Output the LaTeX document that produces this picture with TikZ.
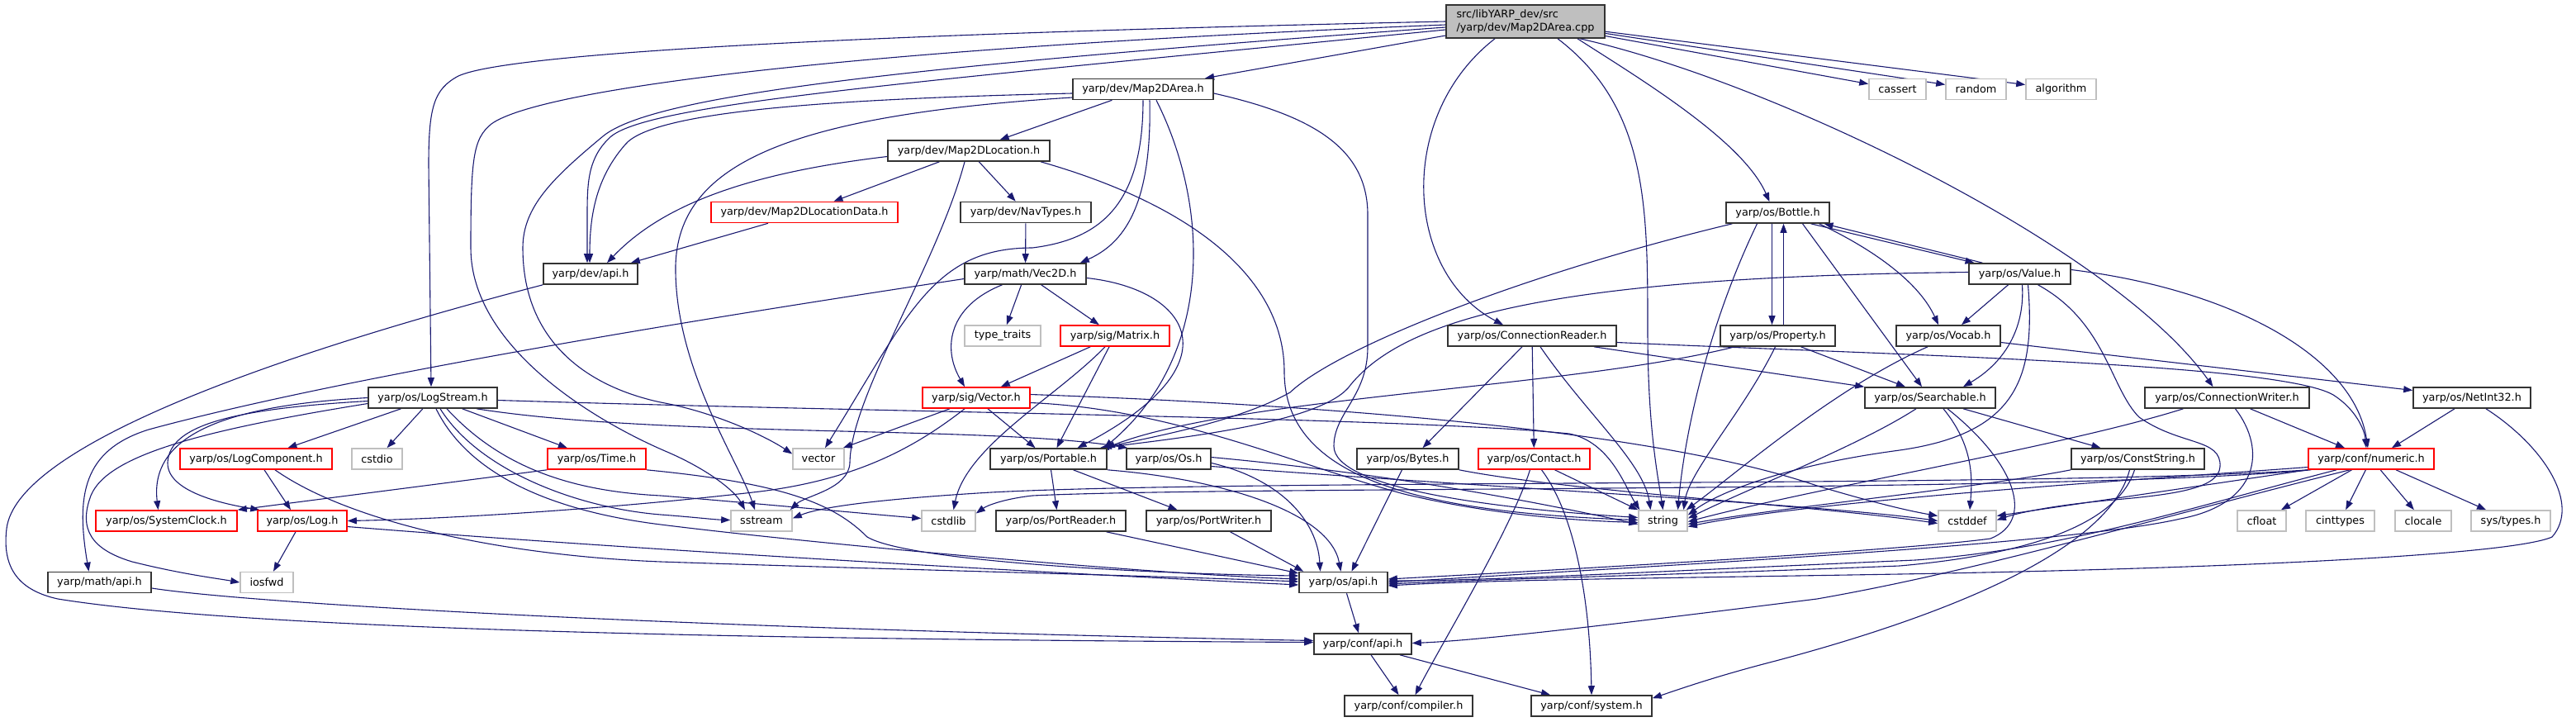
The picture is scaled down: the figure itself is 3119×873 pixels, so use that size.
\documentclass[tikz,border=0pt]{standalone}
\usepackage{fontspec}
\setmainfont{DejaVu Sans}
\usetikzlibrary{arrows.meta,calc}
\pgfdeclarelayer{bg}
\pgfsetlayers{bg,main}
\definecolor{edgec}{RGB}{25,25,112}
\definecolor{grayb}{RGB}{191,191,191}
\begin{document}
\begin{tikzpicture}[x=1pt,y=-1pt,
  nbox/.style={draw=black!80, line width=1.6pt, fill=white, minimum height=25pt, inner sep=0pt, font=\fontsize{12.8pt}{16pt}\selectfont, text=black},
  redbox/.style={nbox, draw=red},
  sysbox/.style={nbox, draw=grayb},
  edge/.style={draw=edgec, line width=1.1pt, -{Triangle[length=11pt,width=8pt]}}]
\useasboundingbox (0,0) rectangle (3119,873);
% nodes
\node[nbox, minimum width=192pt, minimum height=40pt, fill=grayb, align=left] (main) at (1847,26) {src/libYARP\_dev/src\\/yarp/dev/Map2DArea.cpp};
\node[nbox, minimum width=170pt] (map2darea) at (1384,108) {yarp/dev/Map2DArea.h};
\node[sysbox, minimum width=69pt] (cassert) at (2297.5,108) {cassert};
\node[sysbox, minimum width=73pt] (random) at (2392.5,108) {random};
\node[sysbox, minimum width=85pt] (algorithm) at (2495.5,108) {algorithm};
\node[nbox, minimum width=196pt] (map2dloc) at (1173,182.5) {yarp/dev/Map2DLocation.h};
\node[redbox, minimum width=226pt] (map2dlocdata) at (974,257) {yarp/dev/Map2DLocationData.h};
\node[nbox, minimum width=158pt] (navtypes) at (1242,257) {yarp/dev/NavTypes.h};
\node[nbox, minimum width=125pt] (bottle) at (2152.5,257.5) {yarp/os/Bottle.h};
\node[nbox, minimum width=114pt] (devapi) at (715,331.5) {yarp/dev/api.h};
\node[nbox, minimum width=147pt] (vec2d) at (1241.5,331.5) {yarp/math/Vec2D.h};
\node[nbox, minimum width=123pt] (value) at (2445.5,331.5) {yarp/os/Value.h};
\node[sysbox, minimum width=92pt] (typetraits) at (1214,406.5) {type\_traits};
\node[redbox, minimum width=132pt] (matrix) at (1350,406.5) {yarp/sig/Matrix.h};
\node[nbox, minimum width=204pt] (connreader) at (1855,406.5) {yarp/os/ConnectionReader.h};
\node[nbox, minimum width=139pt] (property) at (2152.5,406.5) {yarp/os/Property.h};
\node[nbox, minimum width=126pt] (vocab) at (2359,406.5) {yarp/os/Vocab.h};
\node[nbox, minimum width=156pt] (logstream) at (524,481.5) {yarp/os/LogStream.h};
\node[redbox, minimum width=130pt] (sigvector) at (1182,481.5) {yarp/sig/Vector.h};
\node[nbox, minimum width=158pt] (searchable) at (2337,481.5) {yarp/os/Searchable.h};
\node[nbox, minimum width=199pt] (connwriter) at (2696.5,481.5) {yarp/os/ConnectionWriter.h};
\node[nbox, minimum width=142pt] (netint32) at (2993,481.5) {yarp/os/NetInt32.h};
\node[redbox, minimum width=184pt] (logcomponent) at (310,555.5) {yarp/os/LogComponent.h};
\node[sysbox, minimum width=61pt] (cstdio) at (456.5,555.5) {cstdio};
\node[redbox, minimum width=119pt] (time) at (722.5,555.5) {yarp/os/Time.h};
\node[sysbox, minimum width=62pt] (stdvector) at (991,555.5) {vector};
\node[nbox, minimum width=141pt] (portable) at (1269.5,555.5) {yarp/os/Portable.h};
\node[nbox, minimum width=102pt] (os) at (1415,555.5) {yarp/os/Os.h};
\node[nbox, minimum width=123pt] (bytes) at (1704.5,555.5) {yarp/os/Bytes.h};
\node[redbox, minimum width=135pt] (contact) at (1857.5,555.5) {yarp/os/Contact.h};
\node[nbox, minimum width=161pt] (conststring) at (2588.5,555.5) {yarp/os/ConstString.h};
\node[redbox, minimum width=152pt] (numeric) at (2871,555.5) {yarp/conf/numeric.h};
\node[redbox, minimum width=171pt] (systemclock) at (201.5,630.5) {yarp/os/SystemClock.h};
\node[redbox, minimum width=108pt] (log) at (366,630.5) {yarp/os/Log.h};
\node[sysbox, minimum width=74pt] (sstream) at (922,630.5) {sstream};
\node[sysbox, minimum width=65pt] (cstdlib) at (1148.5,630.5) {cstdlib};
\node[nbox, minimum width=157pt] (portreader) at (1284.5,630.5) {yarp/os/PortReader.h};
\node[nbox, minimum width=151pt] (portwriter) at (1463.5,630.5) {yarp/os/PortWriter.h};
\node[sysbox, minimum width=59pt] (string) at (2013.5,630.5) {string};
\node[sysbox, minimum width=70pt] (cstddef) at (2382,630.5) {cstddef};
\node[sysbox, minimum width=59pt] (cfloat) at (2738.5,630.5) {cfloat};
\node[sysbox, minimum width=83pt] (cinttypes) at (2833.5,630.5) {cinttypes};
\node[sysbox, minimum width=68pt] (clocale) at (2934,630.5) {clocale};
\node[sysbox, minimum width=96pt] (systypes) at (3040,630.5) {sys/types.h};
\node[nbox, minimum width=125pt] (mathapi) at (120.5,705) {yarp/math/api.h};
\node[sysbox, minimum width=64pt] (iosfwd) at (323,705) {iosfwd};
\node[nbox, minimum width=107pt] (osapi) at (1626.5,705) {yarp/os/api.h};
\node[nbox, minimum width=118pt] (confapi) at (1650,779.5) {yarp/conf/api.h};
\node[nbox, minimum width=155pt] (compiler) at (1705.5,854.5) {yarp/conf/compiler.h};
\node[nbox, minimum width=146pt] (system) at (1927,854.5) {yarp/conf/system.h};
\begin{pgfonlayer}{bg}
% main
\draw[edge] (main) -- (map2darea);
\draw[edge] (main) -- (cassert);
\draw[edge] (main) -- (random);
\draw[edge] (main) -- (algorithm);
\draw[edge] ($(main.south)+(63,0)$) .. controls (1985,95) and (2110,170) .. ($(bottle.north)+(-10,0)$);
\draw[edge] ($(main.south)+(66,0)$) .. controls (2150,100) and (2560,300) .. ($(connwriter.north)+(-17,0)$);
\draw[edge] ($(main.south)+(-37,0)$) .. controls (1690,140) and (1700,330) .. ($(connreader.north)+(-35,0)$);
\draw[edge] ($(main.south)+(39,0)$) .. controls (1995,130) and (1995,250) .. (1995,400) .. controls (1995,520) and (2008,580) .. (string.north);
\draw[edge] (main.west) .. controls (1100,40) and (620,62) .. (555,92) .. controls (525,108) and (519,130) .. (519,200) -- ($(logstream.north)+(-2,0)$);
\draw[edge] ($(main.west)+(0,4)$) .. controls (1000,60) and (650,110) .. (595,150) .. controls (573,168) and (570,190) .. (570,300) .. controls (570,420) and (720,510) .. (810,548) .. controls (860,570) and (890,595) .. ($(sstream.north)+(-20,0)$);
\draw[edge] ($(main.west)+(0,7)$) .. controls (1100,80) and (790,115) .. (730,165) .. controls (670,215) and (633,250) .. (633,300) .. controls (633,420) and (720,470) .. (800,487) .. controls (870,500) and (930,530) .. ($(stdvector.west)+(0,-6)$);
\draw[edge] ($(main.west)+(0,10)$) .. controls (1100,100) and (790,125) .. (740,165) .. controls (712,190) and (711,220) .. (711,260) -- ($(devapi.north)+(-4,0)$);
% Map2DArea.h
\draw[edge] (map2darea) -- (map2dloc);
\draw[edge] ($(map2darea.west)+(0,5)$) .. controls (1000,120) and (790,135) .. (757,175) .. controls (722,215) and (714,260) .. ($(devapi.north)+(-1,0)$);
\draw[edge] ($(map2darea.west)+(0,10)$) .. controls (950,140) and (815,200) .. (818,330) .. controls (820,450) and (895,560) .. ($(sstream.north)+(-8,0)$);
\draw[edge] (map2darea.south) .. controls (1384,250) and (1330,290) .. (1250,300) .. controls (1130,300) and (1100,380) .. ($(stdvector.north)+(8,0)$);
\draw[edge] ($(map2darea.south)+(8,0)$) .. controls (1395,250) and (1360,295) .. ($(vec2d.north east)+(-8,0)$);
\draw[edge] ($(map2darea.south)+(16,0)$) .. controls (1465,250) and (1470,430) .. ($(portable.north east)+(-4,0)$);
\draw[edge] ($(map2darea.east)+(0,5)$) .. controls (1590,140) and (1656,180) .. (1656,260) -- (1656,420) .. controls (1656,480) and (1615,500) .. (1615,540) .. controls (1615,590) and (1800,615) .. ($(string.west)+(0,-4)$);
% Map2DLocation.h
\draw[edge] (map2dloc) -- (map2dlocdata);
\draw[edge] (map2dloc) -- (navtypes);
\draw[edge] ($(map2dloc.west)+(0,7)$) .. controls (900,210) and (800,250) .. ($(devapi.north)+(20,0)$);
\draw[edge] ($(map2dloc.south)+(-5,0)$) .. controls (1135,320) and (1030,480) .. (1029,560) .. controls (1028,592) and (975,600) .. ($(sstream.north east)+(-3,0)$);
\draw[edge] ($(map2dloc.south)+(87,0)$) .. controls (1450,250) and (1555,340) .. (1555,450) .. controls (1555,580) and (1720,620) .. ($(string.west)+(0,-1)$);
% others
\draw[edge] ($(map2dlocdata.south)+(-44,0)$) -- ($(devapi.north east)+(-9,0)$);
\draw[edge] (navtypes) -- (vec2d);
\draw[edge] (devapi.south west) .. controls (330,430) and (20,540) .. (8,640) .. controls (2,690) and (25,715) .. (70,725) .. controls (300,762) and (900,774) .. ($(confapi.west)+(0,-2)$);
% Vec2D
\draw[edge] (vec2d) -- (typetraits);
\draw[edge] (vec2d) -- (matrix);
\draw[edge] ($(vec2d.south)+(-28,0)$) .. controls (1150,370) and (1140,420) .. ($(sigvector.north)+(-14,0)$);
\draw[edge] ($(vec2d.east)+(0,5)$) .. controls (1440,350) and (1500,440) .. ($(portable.north)+(35,0)$);
\draw[edge] ($(vec2d.west)+(0,6)$) .. controls (800,393) and (400,460) .. (180,520) .. controls (100,545) and (92,600) .. ($(mathapi.north)+(-13,0)$);
% Matrix
\draw[edge] (matrix) -- (sigvector);
\draw[edge] ($(matrix.south)+(-7,0)$) -- ($(portable.north)+(10,0)$);
\draw[edge] ($(matrix.south)+(-12,0)$) .. controls (1280,480) and (1170,540) .. ($(cstdlib.north)+(6,0)$);
% sig/Vector
\draw[edge] ($(sigvector.south)+(-32,0)$) -- ($(stdvector.north east)+(-2,0)$);
\draw[edge] ($(sigvector.south)+(14,0)$) -- ($(portable.north)+(-16,0)$);
\draw[edge] ($(sigvector.south)+(-14,0)$) .. controls (1110,540) and (1040,580) .. (920,595) .. controls (750,615) and (550,628) .. (log.east);
\draw[edge] ($(sigvector.east)+(0,6)$) .. controls (1420,495) and (1560,560) .. (1700,598) .. controls (1800,622) and (1900,630) .. ($(string.west)+(0,2)$);
\draw[edge] ($(sigvector.east)+(0,-4)$) .. controls (1600,490) and (2000,520) .. (2200,588) .. controls (2280,612) and (2320,620) .. ($(cstddef.west)+(0,-6)$);
% LogStream
\draw[edge] (logstream) -- (logcomponent);
\draw[edge] (logstream) -- (cstdio);
\draw[edge] (logstream) -- (time);
\draw[edge] (logstream.west) .. controls (290,490) and (180,520) .. ($(systemclock.north)+(-10,0)$);
\draw[edge] ($(logstream.west)+(0,4)$) .. controls (280,495) and (205,515) .. (203,560) .. controls (202,595) and (270,610) .. ($(log.north west)+(3,0)$);
\draw[edge] ($(logstream.west)+(0,7)$) .. controls (250,520) and (130,550) .. (110,600) .. controls (95,640) and (110,665) .. (160,680) .. controls (220,695) and (262,700) .. (iosfwd.west);
\draw[edge] ($(logstream.south)+(4,0)$) .. controls (560,560) and (640,615) .. (800,635) .. controls (1000,660) and (1400,695) .. ($(osapi.west)+(0,-4)$);
\draw[edge] ($(logstream.south)+(9,0)$) .. controls (580,570) and (700,615) .. (800,623) .. controls (840,626) and (865,629) .. ($(sstream.west)+(0,-1)$);
\draw[edge] ($(logstream.south)+(17,0)$) .. controls (610,570) and (700,595) .. (800,600) .. controls (900,608) and (1050,622) .. ($(cstdlib.west)+(0,-3)$);
\draw[edge] ($(logstream.east)+(0,3)$) .. controls (1100,500) and (1700,505) .. (1900,525) .. controls (1950,535) and (1968,590) .. ($(string.north west)+(2,0)$);
\draw[edge] ($(logstream.south)+(53,0)$) .. controls (800,530) and (1200,515) .. ($(os.north west)+(2,0)$);
% LogComponent, Time, Log
\draw[edge] ($(logcomponent.south)+(10,0)$) -- ($(log.north)+(-14,0)$);
\draw[edge] ($(logcomponent.south)+(23,0)$) .. controls (420,630) and (600,672) .. (800,680) .. controls (1100,690) and (1400,697) .. ($(osapi.west)+(0,-1)$);
\draw[edge] (time.south west) -- (systemclock.north east);
\draw[edge] (time.south east) .. controls (950,585) and (1010,610) .. (1050,650) .. controls (1100,680) and (1400,695) .. ($(osapi.west)+(0,-8)$);
\draw[edge] ($(log.south)+(-8,0)$) -- ($(iosfwd.north)+(8,0)$);
\draw[edge] ($(log.east)+(0,7)$) .. controls (800,668) and (1300,695) .. ($(osapi.west)+(0,3)$);
\draw[edge] ($(mathapi.east)+(0,7)$) .. controls (300,730) and (800,760) .. ($(confapi.west)+(0,-4)$);
% api chain
\draw[edge] ($(osapi.south)+(4,0)$) -- ($(confapi.north)+(-5,0)$);
\draw[edge] ($(confapi.south)+(10,0)$) -- ($(compiler.north)+(-12,0)$);
\draw[edge] ($(confapi.south)+(45,0)$) -- ($(system.north)+(-50,0)$);
% Contact, Bytes
\draw[edge] ($(contact.south)+(-5,0)$) .. controls (1830,640) and (1745,780) .. ($(compiler.north)+(8,0)$);
\draw[edge] ($(contact.south)+(9,0)$) .. controls (1905,620) and (1925,720) .. (system.north);
\draw[edge] ($(contact.south)+(25,0)$) -- ($(string.north west)+(0,0)$);
\draw[edge] ($(bytes.south)+(-7,0)$) -- ($(osapi.north)+(10,0)$);
\draw[edge] (bytes.south east) .. controls (1900,595) and (2200,612) .. ($(cstddef.west)+(0,3)$);
% ConnectionReader
\draw[edge] ($(connreader.south)+(-12,0)$) -- ($(bytes.north)+(18,0)$);
\draw[edge] (connreader) -- (contact);
\draw[edge] ($(connreader.south)+(10,0)$) .. controls (1920,500) and (1990,560) .. ($(string.north)+(-15,0)$);
\draw[edge] ($(connreader.south)+(75,0)$) -- (searchable.north west);
\draw[edge] ($(connreader.east)+(0,8)$) .. controls (2300,430) and (2760,440) .. (2825,478) .. controls (2852,495) and (2863,520) .. ($(numeric.north)+(-6,0)$);
% Property
\draw[edge] ($(property.south)+(-52,0)$) .. controls (1900,470) and (1500,480) .. ($(portable.north east)+(-2,0)$);
\draw[edge] ($(property.south)+(-3,0)$) .. controls (2110,500) and (2045,570) .. ($(string.north)+(25,0)$);
\draw[edge] ($(property.south)+(28,0)$) -- ($(searchable.north)+(-30,0)$);
\draw[edge] ($(property.north)+(7,0)$) -- ($(bottle.south)+(7,0)$);
% Bottle
\draw[edge] ($(bottle.south)+(-7,0)$) -- ($(property.north)+(-7,0)$);
\draw[edge] ($(bottle.south)+(-55,0)$) .. controls (1850,330) and (1620,420) .. (1562,475) .. controls (1500,510) and (1400,528) .. ($(portable.north east)+(-6,0)$);
\draw[edge] ($(bottle.south)+(-25,0)$) .. controls (2070,390) and (2040,520) .. ($(string.north)+(18,0)$);
\draw[edge] ($(bottle.south)+(30,0)$) -- ($(searchable.north)+(-10,0)$);
\draw[edge] ($(bottle.south)+(50,0)$) .. controls (2275,305) and (2325,345) .. ($(vocab.north)+(-12,0)$);
\draw[edge] ($(bottle.south)+(40,0)$) -- ($(value.north)+(-55,0)$);
% Value
\draw[edge] ($(value.north)+(-45,0)$) -- ($(bottle.south)+(56,0)$);
\draw[edge] ($(value.south)+(-14,0)$) -- ($(vocab.north)+(16,0)$);
\draw[edge] ($(value.south)+(3,0)$) .. controls (2452,400) and (2425,440) .. ($(searchable.north)+(40,0)$);
\draw[edge] ($(value.south)+(10,0)$) .. controls (2465,460) and (2440,525) .. (2300,545) .. controls (2150,565) and (2075,600) .. ($(string.east)+(0,-7)$);
\draw[edge] ($(value.south)+(22,0)$) .. controls (2550,390) and (2555,470) .. (2590,505) .. controls (2640,540) and (2690,530) .. (2688,565) .. controls (2686,590) and (2640,598) .. (2560,605) .. controls (2480,612) and (2440,622) .. ($(cstddef.east)+(0,-1)$);
\draw[edge] ($(value.east)+(0,-5)$) .. controls (2700,350) and (2850,430) .. ($(numeric.north)+(-4,0)$);
\draw[edge] ($(value.west)+(0,-2)$) .. controls (1900,335) and (1700,380) .. (1632,470) .. controls (1595,510) and (1450,528) .. ($(portable.north east)+(-9,0)$);
% Vocab
\draw[edge] ($(vocab.south)+(-25,0)$) .. controls (2220,470) and (2100,575) .. ($(string.north east)+(-2,0)$);
\draw[edge] ($(vocab.east)+(0,8)$) -- ($(netint32.west)+(0,-9)$);
% Searchable
\draw[edge] ($(searchable.south)+(-17,0)$) .. controls (2250,540) and (2120,590) .. ($(string.east)+(0,-3)$);
\draw[edge] ($(searchable.south)+(16,0)$) .. controls (2390,540) and (2388,580) .. ($(cstddef.north)+(3,0)$);
\draw[edge] ($(searchable.south)+(21,0)$) .. controls (2440,560) and (2465,630) .. (2410,652) .. controls (2300,667) and (1850,692) .. ($(osapi.east)+(0,-4)$);
\draw[edge] ($(searchable.south)+(40,0)$) -- ($(conststring.north)+(-45,0)$);
% ConnectionWriter
\draw[edge] ($(connwriter.south)+(-53,0)$) .. controls (2500,540) and (2200,590) .. ($(string.east)+(0,1)$);
\draw[edge] ($(connwriter.south)+(28,0)$) -- ($(numeric.north)+(-32,0)$);
\draw[edge] ($(connwriter.south)+(10,0)$) .. controls (2745,545) and (2735,610) .. (2640,628) .. controls (2500,660) and (2000,685) .. (osapi.east);
% NetInt32
\draw[edge] ($(netint32.south)+(-21,0)$) -- ($(numeric.north)+(25,0)$);
\draw[edge] ($(netint32.south)+(17,0)$) .. controls (3080,540) and (3125,610) .. (3090,650) .. controls (3040,672) and (2700,688) .. (2300,695) .. controls (2000,700) and (1800,702) .. ($(osapi.east)+(0,4)$);
% ConstString
\draw[edge] (conststring.south west) .. controls (2400,590) and (2150,615) .. ($(string.east)+(0,4)$);
\draw[edge] ($(conststring.south)+(-4,0)$) .. controls (2565,630) and (2470,670) .. (2300,685) .. controls (2000,697) and (1800,701) .. ($(osapi.east)+(0,2)$);
\draw[edge] ($(conststring.south)+(-10,0)$) .. controls (2550,680) and (2300,760) .. (2150,800) .. controls (2080,818) and (2040,832) .. ($(system.north east)+(0,4)$);
% numeric
\draw[edge] (numeric) -- (cfloat);
\draw[edge] (numeric) -- (cinttypes);
\draw[edge] (numeric) -- (clocale);
\draw[edge] (numeric) -- (systypes);
\draw[edge] ($(numeric.west)+(0,10)$) .. controls (2600,580) and (2200,605) .. ($(string.east)+(0,7)$);
\draw[edge] (numeric.south west) -- ($(cstddef.east)+(0,-6)$);
\draw[edge] (numeric.south west) .. controls (2500,590) and (1500,580) .. (1200,596) .. controls (1050,605) and (990,615) .. ($(sstream.east)+(0,-3)$);
\draw[edge] ($(numeric.south west)+(4,0)$) .. controls (2500,597) and (1500,588) .. (1250,600) .. controls (1215,604) and (1195,612) .. ($(cstdlib.east)+(0,-9)$);
\draw[edge] ($(numeric.south)+(-42,0)$) .. controls (2650,615) and (2500,665) .. (2319,678) .. controls (2000,692) and (1800,703) .. ($(osapi.east)+(0,-2)$);
\draw[edge] ($(numeric.south)+(-26,0)$) .. controls (2600,630) and (2400,690) .. (2200,725) .. controls (2000,750) and (1800,775) .. ($(confapi.east)+(0,-1)$);
% Portable, Os, PortReader, PortWriter
\draw[edge] ($(portable.south)+(3,0)$) -- ($(portreader.north)+(-5,0)$);
\draw[edge] ($(portable.south)+(30,0)$) -- ($(portwriter.north)+(-38,0)$);
\draw[edge] (portable.south east) .. controls (1480,580) and (1610,620) .. ($(osapi.north)+(-3,0)$);
\draw[edge] ($(os.east)+(0,5)$) .. controls (1550,580) and (1595,630) .. ($(osapi.north)+(-28,0)$);
\draw[edge] ($(os.east)+(0,-2)$) .. controls (1700,575) and (1880,612) .. ($(string.west)+(0,4)$);
\draw[edge] ($(os.east)+(0,9)$) .. controls (1800,590) and (2200,610) .. (cstddef.west);
\draw[edge] ($(portreader.south)+(55,0)$) -- ($(osapi.west)+(0,-11)$);
\draw[edge] ($(portwriter.south)+(26,0)$) -- ($(osapi.north west)+(6,0)$);
\end{pgfonlayer}
\end{tikzpicture}
\end{document}
